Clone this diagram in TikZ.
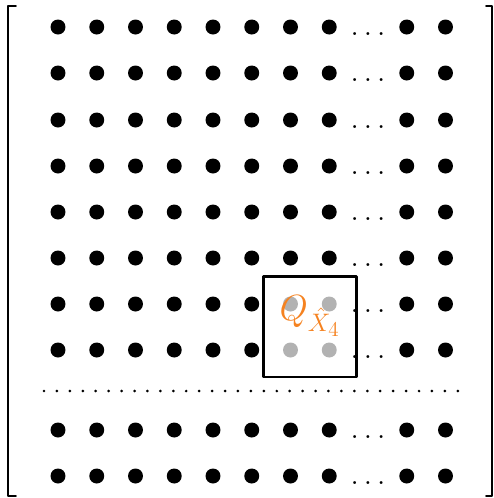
\documentclass[tikz,border=0pt]{standalone}
\usepackage{amsmath}
\definecolor{qorange}{RGB}{245,130,32}

\begin{document}
\begin{tikzpicture}[x=0.02cm,y=-0.02cm,line cap=round,line join=round]

\tikzset{
    site/.style={circle,fill=black,inner sep=0pt,minimum size=0.3cm},
    ghost/.style={site,fill=black!30},
    rowdots/.style={font=\LARGE,inner sep=0pt,anchor=base},
}
\def\colw{38.75}

\useasboundingbox (0,0) rectangle (494,498);

% the big brackets
\draw[line width=0.9pt] (16,6) -- (8,6) -- (8,496) -- (16,496);
\draw[line width=0.9pt] (486,6) -- (492,6) -- (492,496) -- (486,496);

% lattice rows
\foreach \r/\y in {1/27,2/73,3/120,4/166,5/212,6/258,7/304,8/350,9/430,10/476} {
    \foreach \c in {1,...,8,10,11} {
        \pgfmathtruncatemacro\isq{(\r>6)*(\r<9)*(\c>6)*(\c<9)}
        \def\kind{site}
        \ifnum\isq=1 \def\kind{ghost}\fi
        \node[\kind] (s-\r-\c) at ({58+\colw*(\c-1)},\y) {};
    }
    \node[rowdots] (e-\r) at (368,\y+8) {$\ldots$};
}

% skipped rows
\coordinate (gapL) at (44,391);
\coordinate (gapR) at (458,391);
\draw[line width=1.7pt,dash pattern=on 0pt off 7.36pt] (gapL) -- (gapR);

% the window
\node[draw,line width=1.7pt,minimum width=1.88cm,minimum height=2.02cm,inner sep=0pt] (win) at (310,326.5) {};
\node[text=qorange,font=\huge,inner sep=0pt] (qlab) at (310,316) {$Q_{\hat{X}_4}$};

\end{tikzpicture}
\end{document}
